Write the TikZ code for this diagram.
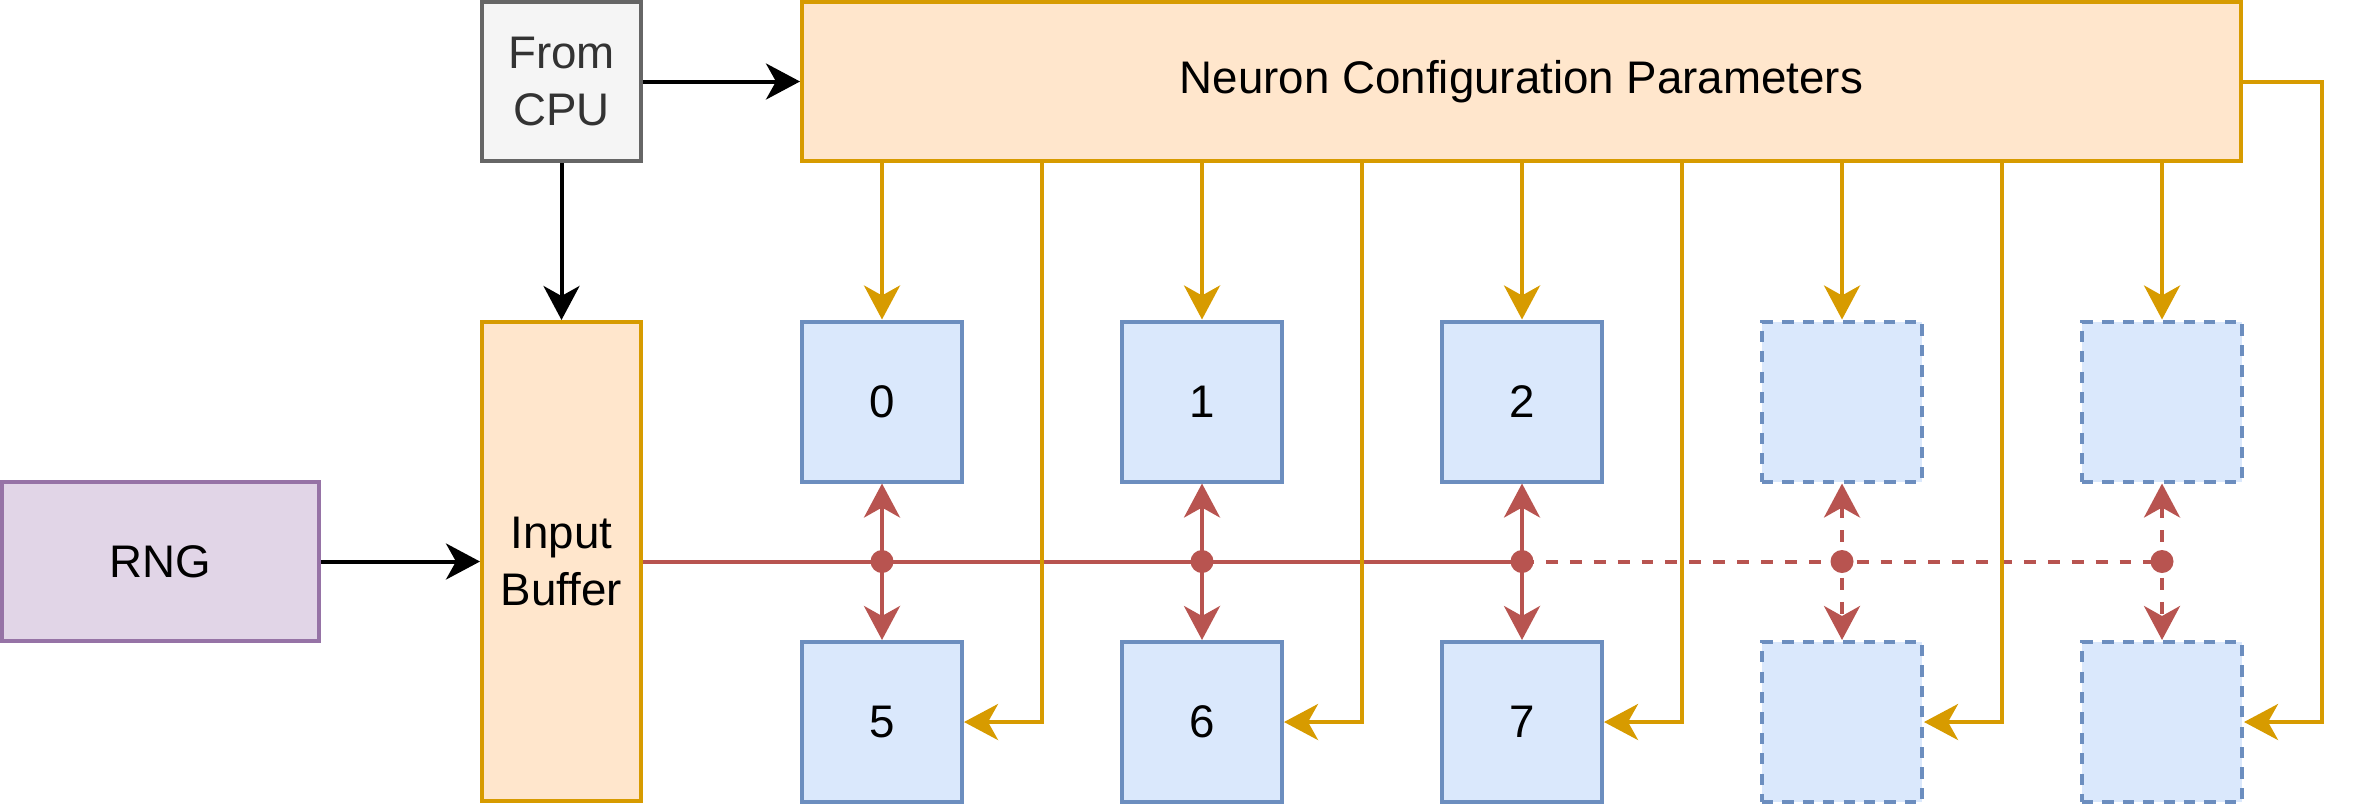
\documentclass[tikz,border=0pt]{standalone}
\usepackage{fontspec}
\usepackage{tikz}
\setsansfont{Liberation Sans}
\definecolor{cfgfill}{RGB}{255,230,204}
\definecolor{cfgline}{RGB}{215,155,0}
\definecolor{neufill}{RGB}{218,232,252}
\definecolor{neuline}{RGB}{108,142,191}
\definecolor{rngfill}{RGB}{225,213,231}
\definecolor{rngline}{RGB}{150,115,166}
\definecolor{cpufill}{RGB}{245,245,245}
\definecolor{cpuline}{RGB}{102,102,102}
\definecolor{cputext}{RGB}{51,51,51}
\definecolor{busred}{RGB}{184,84,80}
\usetikzlibrary{calc, positioning, arrows.meta}
\newcommand*{\boxfont}{\sffamily\fontsize{13}{16.2}\selectfont}
\tikzset{%
  block/.style={draw, rectangle, line width=1.14pt, align=center, font=\boxfont, inner sep=0pt},
  orangebox/.style={block, fill=cfgfill, draw=cfgline},% config / buffer
  neuron/.style={block, fill=neufill, draw=neuline, minimum width=1.6cm, minimum height=1.6cm},
  spare/.style={neuron, dash pattern=on 3.2pt off 2.6pt},% unused neuron slot
  tip/.style={-{Stealth[length=0.34cm, width=0.36cm, inset=0.1cm]}},
  link/.style={line width=1.14pt, black, tip},% black data link
  feed/.style={line width=1.14pt, cfgline, tip},% config parameter line
  bus/.style={line width=1.14pt, busred},% spike bus
  tap/.style={bus, {Stealth[length=0.34cm, width=0.36cm, inset=0.1cm]}-{Stealth[length=0.34cm, width=0.36cm, inset=0.1cm]}},
  dot/.style={circle, fill=busred, inner sep=0pt, minimum size=0.23cm}
}

\begin{document}
\begin{tikzpicture}
\useasboundingbox (0,0) rectangle (23.56,-8.08);
% sources
\node[block, fill=rngfill, draw=rngline, minimum width=3.17cm, minimum height=1.59cm] (rng) at (1.605,-5.615) {RNG};
\node[block, fill=cpufill, draw=cpuline, text=cputext, minimum width=1.59cm, minimum height=1.59cm] (cpu) at (5.615,-0.815) {From\\CPU};
\node[orangebox, minimum width=1.59cm, minimum height=4.79cm] (buf) at (5.615,-5.615) {Input\\Buffer};
\node[orangebox, minimum width=14.39cm, minimum height=1.59cm] (cfg) at (15.215,-0.815) {Neuron Configuration Parameters};
% neurons
\node[neuron] (n0) at (8.82,-4.015) {0};
\node[neuron] (n1) at (12.02,-4.015) {1};
\node[neuron] (n2) at (15.22,-4.015) {2};
\node[spare] (n3) at (18.42,-4.015) {};
\node[spare] (n4) at (21.62,-4.015) {};
\node[neuron] (n5) at (8.82,-7.22) {5};
\node[neuron] (n6) at (12.02,-7.22) {6};
\node[neuron] (n7) at (15.22,-7.22) {7};
\node[spare] (n8) at (18.42,-7.22) {};
\node[spare] (n9) at (21.62,-7.22) {};
% bus taps
\node[dot] (d0) at (n0 |- buf.east) {};
\node[dot] (d1) at (n1 |- d0) {};
\node[dot] (d2) at (n2 |- d0) {};
\node[dot] (d3) at (n3 |- d0) {};
\node[dot] (d4) at (n4 |- d0) {};
\draw[bus] (buf.east) -- (d2.center);
\draw[bus, dash pattern=on 3.4pt off 3.4pt] (d2.center) -- (d4.center);
\draw[tap] (n0) -- (n5);
\draw[tap] (n1) -- (n6);
\draw[tap] (n2) -- (n7);
\draw[tap, dash pattern=on 3.4pt off 3.4pt] (n3) -- (n8);
\draw[tap, dash pattern=on 3.4pt off 3.4pt] (n4) -- (n9);
% black links
\draw[link] (cpu) -- (cfg);
\draw[link] (cpu) -- (buf);
\draw[link] (rng) -- (buf);
% config lines
\coordinate (k5) at ($(n0.east)!0.5!(n1.west)$);
\coordinate (k6) at ($(n1.east)!0.5!(n2.west)$);
\coordinate (k7) at ($(n2.east)!0.5!(n3.west)$);
\coordinate (k8) at ($(n3.east)!0.5!(n4.west)$);
\coordinate (k9) at (23.22,-4);
\draw[feed] (cfg.south -| n0) -- (n0);
\draw[feed] (cfg.south -| n1) -- (n1);
\draw[feed] (cfg.south -| n2) -- (n2);
\draw[feed] (cfg.south -| n3) -- (n3);
\draw[feed] (cfg.south -| n4) -- (n4);
\draw[feed] (cfg.south -| k5) |- (n5);
\draw[feed] (cfg.south -| k6) |- (n6);
\draw[feed] (cfg.south -| k7) |- (n7);
\draw[feed] (cfg.south -| k8) |- (n8);
\draw[feed] (cfg.east) -| (k9) |- (n9);
\end{tikzpicture}
\end{document}
